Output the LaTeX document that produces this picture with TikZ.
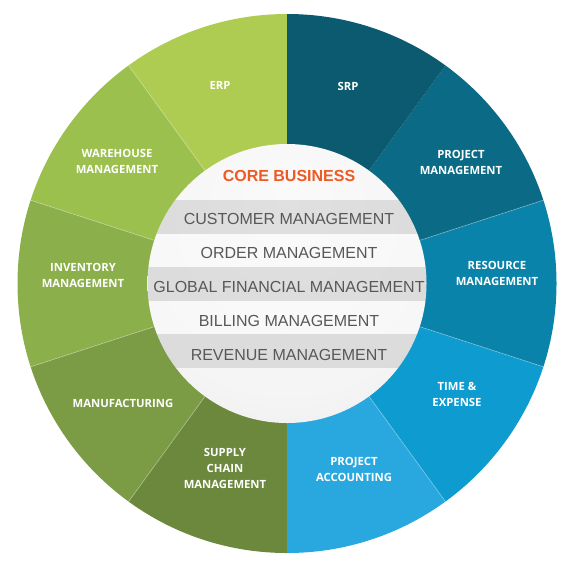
\documentclass[tikz,border=0pt]{standalone}
\usepackage{fontspec}
\setmainfont{Liberation Sans}
\newfontfamily\segfont{Open Sans}
\definecolor{cERP}{HTML}{AECB52}
\definecolor{cWH}{HTML}{9CC04D}
\definecolor{cINV}{HTML}{8BAF4A}
\definecolor{cMAN}{HTML}{7B9C45}
\definecolor{cSUP}{HTML}{6B883D}
\definecolor{cSRP}{HTML}{0B5A70}
\definecolor{cPM}{HTML}{0B6A86}
\definecolor{cRES}{HTML}{0A83AA}
\definecolor{cTE}{HTML}{0E9BCF}
\definecolor{cPA}{HTML}{29A8E0}
\definecolor{txtgray}{HTML}{585858}
\definecolor{coreorange}{HTML}{EE5A24}
\pgfdeclareradialshading{lens}{\pgfpoint{0bp}{16bp}}{color(0bp)=(white!98!black); color(30bp)=(white!96!black); color(44bp)=(white!92!black); color(55bp)=(white!86!black); color(66bp)=(white!78!black); color(80bp)=(white!72!black)}
\begin{document}
\begin{tikzpicture}[x=1pt,y=1pt,
  seglabel/.style={text=white, font=\segfont\bfseries\fontsize{11.3}{16}\selectfont, align=center, inner sep=0pt},
  bandtext/.style={text=txtgray, font=\fontsize{16}{18}\selectfont, inner sep=0pt},
  coretitle/.style={text=coreorange, font=\bfseries\fontsize{16}{18}\selectfont, inner sep=0pt},
  sepline/.style={draw=white, draw opacity=0.3, line width=0.8pt},
  darkband/.style={fill=black, fill opacity=0.1},
  lightband/.style={fill=white, fill opacity=0.25}]
\useasboundingbox (0,0) rectangle (580,-574);
\coordinate (C) at (287,-283.5);
% ring sectors, clipped to the outer circle
\begin{scope}
  \clip (C) circle (269.5pt);
  \begin{scope}[shift={(C)}]
    \foreach \a/\c in {90/cERP,126/cWH,162/cINV,198/cMAN,234/cSUP,-90/cPA,-54/cTE,-18/cRES,18/cPM,54/cSRP}{
      \fill[\c] (0,0) -- (\a:420pt) -- (\a+18:440pt) -- (\a+36:420pt) -- cycle;
    }
  \end{scope}
\end{scope}
% separators
\foreach \a in {126,162,198,234,18,-18,-54}{
  \draw[sepline] (C) ++(\a:139.5pt) -- ++(\a:130pt);
}
% inner circle
\shade[shading=lens] (C) circle (139.5pt);
\begin{scope}
  \clip (C) circle (139.5pt);
  \fill[darkband] (100,-200) rectangle (480,-233.6);
  \fill[lightband] (100,-233.6) rectangle (480,-267.2);
  \fill[darkband] (100,-267.2) rectangle (480,-300.8);
  \fill[lightband] (100,-300.8) rectangle (480,-334.4);
  \fill[darkband] (100,-334.4) rectangle (480,-368);
\end{scope}
% core texts
\node[coretitle] (core) at (289,-175.5) {CORE BUSINESS};
\node[bandtext] (cust) at (289,-219) {CUSTOMER MANAGEMENT};
\node[bandtext] (order) at (289,-253) {ORDER MANAGEMENT};
\node[bandtext] (glob) at (289,-287) {GLOBAL FINANCIAL MANAGEMENT};
\node[bandtext] (bill) at (289,-321) {BILLING MANAGEMENT};
\node[bandtext] (rev) at (289,-354.5) {REVENUE MANAGEMENT};
% segment labels
\node[seglabel] (erp) at (220,-85) {ERP};
\node[seglabel] (srp) at (348,-86) {SRP};
\node[seglabel] (pm) at (461,-162) {PROJECT\\MANAGEMENT};
\node[seglabel] (res) at (497,-273) {RESOURCE\\MANAGEMENT};
\node[seglabel] (te) at (457,-394) {TIME \&\\EXPENSE};
\node[seglabel] (pa) at (354,-469) {PROJECT\\ACCOUNTING};
\node[seglabel] (sup) at (225,-468) {SUPPLY\\CHAIN\\MANAGEMENT};
\node[seglabel] (man) at (123,-403) {MANUFACTURING};
\node[seglabel] (inv) at (83,-275) {INVENTORY\\MANAGEMENT};
\node[seglabel] (wh) at (117,-161) {WAREHOUSE\\MANAGEMENT};
\end{tikzpicture}
\end{document}
